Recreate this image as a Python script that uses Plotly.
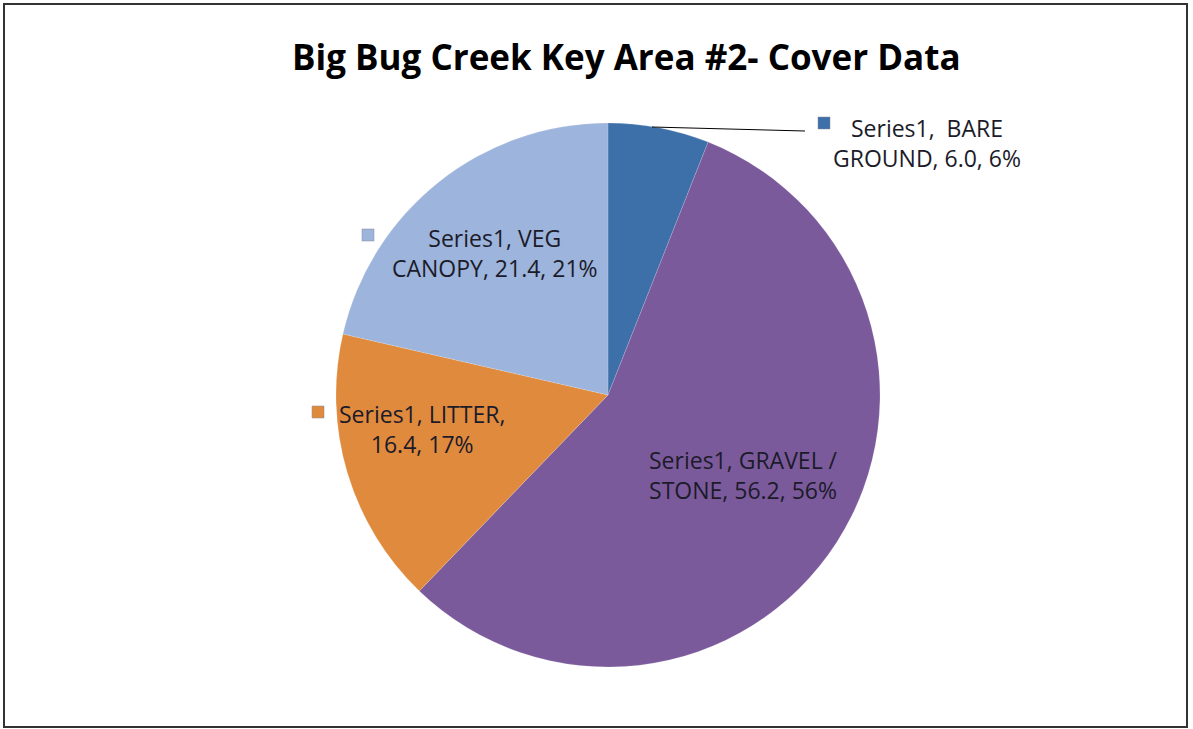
import plotly.graph_objects as go

categories = ["BARE GROUND", "GRAVEL / STONE", "LITTER", "VEG CANOPY"]
values = [6.0, 56.2, 16.4, 21.4]
percents = [6, 56, 17, 21]
colors = ["#3d6fa9", "#7b5a9c", "#e08a3d", "#9db4dc"]
series_name = "Series1"

W, H = 1193, 729
cx, cy, r = 608, 395, 272

fig = go.Figure(go.Pie(
    labels=categories, values=values, sort=False, direction="clockwise",
    rotation=0, textinfo="none", hoverinfo="label+value+percent",
    marker=dict(colors=colors, line=dict(color="rgba(255,255,255,0.3)", width=0.5)),
    domain=dict(x=[(cx - r) / W, (cx + r) / W], y=[(H - cy - r) / H, (H - cy + r) / H]),
    showlegend=False,
))

def lab(i):
    return f"{values[i]:.1f}, {percents[i]}%"

font = dict(family="Open Sans, Liberation Sans, sans-serif", size=23, color="#1b1b2a")
ann = [
    (927, 143, f"{series_name},  BARE<br>GROUND, {lab(0)}"),
    (743, 475, f"{series_name}, GRAVEL /<br>STONE, {lab(1)}"),
    (422, 429, f"{series_name}, LITTER,<br>{lab(2)}"),
    (495, 253, f"{series_name}, VEG<br>CANOPY, {lab(3)}"),
]
annotations = []
for x, y, t in ann:
    annotations.append(dict(x=x / W, y=1 - y / H, xref="paper", yref="paper", text=t,
                            showarrow=False, font=font, align="center",
                            xanchor="center", yanchor="middle"))
annotations.append(dict(x=626 / W, y=1 - 57 / H, xref="paper", yref="paper",
                        text="<b>Big Bug Creek Key Area #2- Cover Data</b>", showarrow=False,
                        font=dict(family="Open Sans, Liberation Sans, sans-serif", size=35, color="#000000"),
                        xanchor="center", yanchor="middle"))

shapes = [dict(type="rect", xref="paper", yref="paper", x0=4 / W, x1=1187 / W, y0=1 - 727 / H, y1=1 - 4 / H,
               line=dict(color="#333333", width=2), fillcolor="rgba(0,0,0,0)")]
squares = [(824, 123, 0), (368, 235, 3), (318, 412, 2)]
for sx, sy, i in squares:
    shapes.append(dict(type="rect", xref="paper", yref="paper", x0=(sx - 6) / W, x1=(sx + 6) / W,
                       y0=1 - (sy + 6) / H, y1=1 - (sy - 6) / H, fillcolor=colors[i],
                       line=dict(color="#8a8a9a", width=0.5)))
shapes.append(dict(type="line", xref="paper", yref="paper", x0=652 / W, y0=1 - 127 / H, x1=805 / W, y1=1 - 131 / H,
                   line=dict(color="#000000", width=1)))

fig.update_layout(width=W, height=H, margin=dict(l=0, r=0, t=0, b=0),
                  paper_bgcolor="white", plot_bgcolor="white",
                  annotations=annotations, shapes=shapes)
fig.write_html("out.html")
